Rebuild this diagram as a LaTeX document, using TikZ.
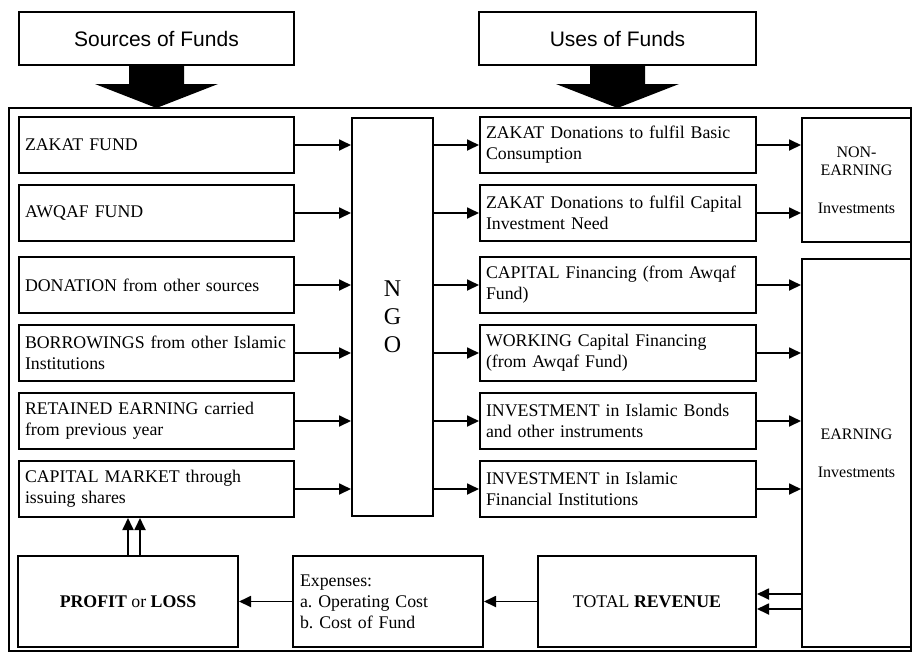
\documentclass[tikz,border=0pt]{standalone}
\usepackage{fontspec}
\setmainfont{Liberation Serif}
\newfontfamily\headfont{Liberation Sans}
\usetikzlibrary{arrows.meta,calc}
\frenchspacing

\begin{document}
\begin{tikzpicture}[x=1pt,y=-1pt,
  every node/.style={draw,line width=2pt,inner sep=0pt,font=\fontsize{17.8}{21}\selectfont},
  head/.style={minimum height=53pt,font=\headfont\fontsize{21}{24}\selectfont},
  fundbox/.style={minimum height=56pt,text width=263pt,inner xsep=6pt,align=left},
  usebox/.style={minimum height=56pt,text width=264pt,inner xsep=6pt,align=left},
  invbox/.style={minimum width=109pt,align=center,font=\fontsize{16}{18}\selectfont},
  lowbox/.style={minimum height=91pt},
  conn/.style={line width=1.8pt,-{Triangle[length=12pt,width=11pt]}}]
\useasboundingbox (0,0) rectangle (913,654);

% headings
\node (srchead) [head,minimum width=275pt] at (156.5,38.5) {Sources of Funds};
\node (usehead) [head,minimum width=277pt] at (617.5,38.5) {Uses of Funds};
\foreach \h in {srchead,usehead}
  \fill ($(\h.south)+(-27.5,0)$) -- ++(0,18) -- ++(-34,0) -- ($(\h.south)+(0,42)$)
        -- ++(61.5,-24) -- ++(-34,0) -- ++(0,-18) -- cycle;
\draw [line width=2pt] (9,108) rectangle (911,651);

% sources
\node (zakat)  [fundbox] at (156.5,145) {ZAKAT FUND};
\node (awqaf)  [fundbox] at (156.5,213) {AWQAF FUND};
\node (donat)  [fundbox] at (156.5,285) {DONATION from other sources};
\node (borrow) [fundbox] at (156.5,353) {BORROWINGS from other Islamic\\Institutions};
\node (retain) [fundbox] at (156.5,421) {RETAINED EARNING carried\\from previous year};
\node (market) [fundbox] at (156.5,489) {CAPITAL MARKET through\\issuing shares};

\node (ngo) [minimum width=81pt,minimum height=398pt,align=center,
             font=\fontsize{24}{28}\selectfont] at (392.5,317) {N\\G\\O};

% uses
\node (basic)  [usebox] at (618,145) {ZAKAT Donations to fulfil Basic\\Consumption};
\node (capneed)[usebox] at (618,213) {ZAKAT Donations to fulfil Capital\\Investment Need};
\node (capfin) [usebox] at (618,285) {CAPITAL Financing (from Awqaf\\Fund)};
\node (workfin)[usebox] at (618,353) {WORKING Capital Financing\\(from Awqaf Fund)};
\node (bonds)  [usebox] at (618,421) {INVESTMENT in Islamic Bonds\\and other instruments};
\node (ifi)    [usebox] at (618,489) {INVESTMENT in Islamic\\Financial Institutions};

\node (nonearn) [invbox,minimum height=124pt] at (856.5,180) {NON-\\EARNING\\[20pt]Investments};
\node (earn)    [invbox,minimum height=388pt] at (856.5,453) {EARNING\\[20pt]Investments};

% bottom row
\node (profit)  [lowbox,minimum width=220pt] at (128,601.5) {\textbf{PROFIT} or \textbf{LOSS}};
\node (expense) [lowbox,text width=176pt,inner xsep=7pt,align=left] at (388,601.5)
  {Expenses:\\a. Operating Cost\\b. Cost of Fund};
\node (revenue) [lowbox,minimum width=218pt] at (647,601.5) {TOTAL \textbf{REVENUE}};

% connectors
\foreach \s in {zakat,awqaf,donat,borrow,retain,market}
  \draw [conn] (\s.east) -- (\s.east -| ngo.west);
\foreach \u in {basic,capneed,capfin,workfin,bonds,ifi}
  \draw [conn] (\u.west -| ngo.east) -- (\u.west);
\foreach \u in {basic,capneed}
  \draw [conn] (\u.east) -- (\u.east -| nonearn.west);
\foreach \u in {capfin,workfin,bonds,ifi}
  \draw [conn] (\u.east) -- (\u.east -| earn.west);
\foreach \d in {-7.5,7.5}
  \draw [conn] ($(revenue.east)+(46,\d)$) -- ($(revenue.east)+(0,\d)$);
\draw [conn] (revenue) -- (expense);
\draw [conn] (expense) -- (profit);
\foreach \d in {0,12}
  \draw [conn] ([xshift=\d pt]profit.north) -- ([xshift=\d pt]profit.north |- market.south);
\end{tikzpicture}
\end{document}
